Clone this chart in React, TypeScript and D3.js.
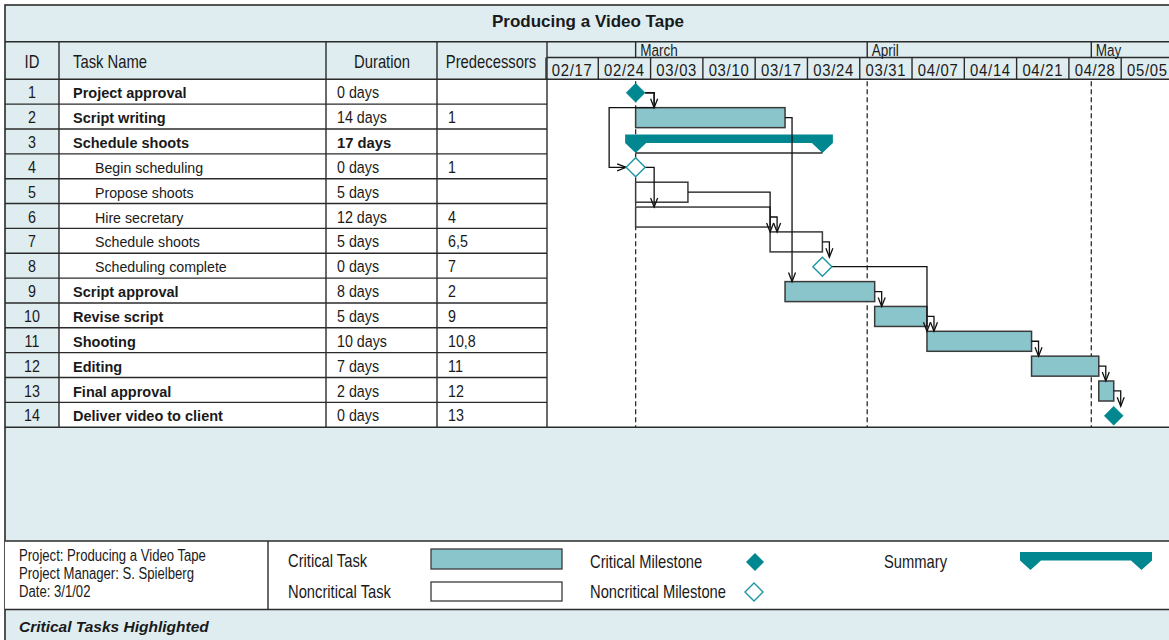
import React, { useEffect, useRef } from "react";
import * as d3 from "d3";

// ---- data ----
const taskIds = [1, 2, 3, 4, 5, 6, 7, 8, 9, 10, 11, 12, 13, 14];
const taskNames = [
  "Project approval", "Script writing", "Schedule shoots", "Begin scheduling",
  "Propose shoots", "Hire secretary", "Schedule shoots", "Scheduling complete",
  "Script approval", "Revise script", "Shooting", "Editing", "Final approval",
  "Deliver video to client",
];
const durations = [
  "0 days", "14 days", "17 days", "0 days", "5 days", "12 days", "5 days",
  "0 days", "8 days", "5 days", "10 days", "7 days", "2 days", "0 days",
];
const predecessors = ["", "1", "", "1", "", "4", "6,5", "7", "2", "9", "10,8", "11", "12", "13"];
const taskStarts = [
  "2002-03-01", "2002-03-01", "2002-03-01", "2002-03-01", "2002-03-01", "2002-03-01", "2002-03-19",
  "2002-03-26", "2002-03-21", "2002-04-02", "2002-04-09", "2002-04-23", "2002-05-02", "2002-05-04",
];
const taskEnds = [
  "2002-03-01", "2002-03-21", "2002-03-26", "2002-03-01", "2002-03-08", "2002-03-19", "2002-03-26",
  "2002-03-26", "2002-04-02", "2002-04-09", "2002-04-23", "2002-05-02", "2002-05-04", "2002-05-04",
];
const taskKinds = [
  "milestone", "task", "summary", "milestone", "task", "task", "task",
  "milestone", "task", "task", "task", "task", "task", "milestone",
];
const criticalTasks = [true, true, false, false, false, false, false, false, true, true, true, true, true, true];
const subTasks = [false, false, false, true, true, true, true, true, false, false, false, false, false, false];
const links = [[1, 2], [1, 4], [4, 6], [5, 7], [6, 7], [7, 8], [2, 9], [9, 10], [10, 11], [8, 11], [11, 12], [12, 13], [13, 14]];

const weekLabels = ["02/17", "02/24", "03/03", "03/10", "03/17", "03/24", "03/31", "04/07", "04/14", "04/21", "04/28", "05/05"];
const monthLabels = ["March", "April", "May"];
const monthStarts = ["2002-03-01", "2002-04-01", "2002-05-01"];
const timelineRange = ["2002-02-17", "2002-05-12"];

const infoLines = ["Project: Producing a Video Tape", "Project Manager: S. Spielberg", "Date: 3/1/02"];

// ---- style ----
const SANS = "'Liberation Sans', Arial, sans-serif";
const BG = "#dfedf1";
const LINE = "#2b2b2b";
const TEAL = "#00878f";
const CRIT = "#8bc5cc";
const TEXT = "#1a1a1a";

function App() {
  const ref = useRef<SVGSVGElement>(null);

  useEffect(() => {
    const width = 1169, height = 640;
    const svg = d3.select(ref.current).attr("width", width).attr("height", height);
    svg.selectAll("*").remove();

    // condensed text: no narrow face installed, so squeeze the sans horizontally
    const narrow = (g: any, xx: number, yy: number, t: string | number, size: number,
      anchor = "start", sx = 0.82, spacing = 0) =>
      g.append("text").attr("transform", `translate(${xx},${yy}) scale(${sx},1)`)
        .attr("text-anchor", anchor).attr("font-family", SANS).attr("font-size", size)
        .attr("letter-spacing", spacing).attr("fill", TEXT).text(t);

    const parse = d3.utcParse("%Y-%m-%d");
    const left = 5, titleTop = 5, headTop = 41.7, monthBottom = 57.5, headBottom = 79.3;
    const cols = [5, 59, 326, 437, 547];
    const rowH = 24.85;
    const tableBottom = headBottom + taskIds.length * rowH;
    const legendTop = 541, legendBottom = 609.5;

    const x = d3.scaleUtc()
      .domain(timelineRange.map((d) => parse(d) as Date))
      .range([546, 546 + 84 * 7.47]);
    const y = d3.scaleLinear().domain([0, taskIds.length]).range([headBottom, tableBottom]);

    // frame
    svg.append("rect").attr("width", width).attr("height", height).attr("fill", "#fff");
    svg.append("rect").attr("x", left).attr("y", titleTop).attr("width", width + 20).attr("height", height + 20)
      .attr("fill", BG).attr("stroke", LINE).attr("stroke-width", 1.6);

    svg.append("text").attr("x", 588).attr("y", 27).attr("text-anchor", "middle")
      .attr("font-family", SANS).attr("font-weight", "bold").attr("font-size", 17).attr("fill", TEXT)
      .text("Producing a Video Tape");

    // white cells
    svg.append("rect").attr("x", cols[1]).attr("y", headBottom).attr("width", cols[4] - cols[1]).attr("height", tableBottom - headBottom).attr("fill", "#fff");
    svg.append("rect").attr("x", cols[4]).attr("y", headBottom).attr("width", width - cols[4] + 10).attr("height", tableBottom - headBottom).attr("fill", "#fff");
    svg.append("rect").attr("x", left).attr("y", legendTop).attr("width", width).attr("height", legendBottom - legendTop).attr("fill", "#fff");

    const lines = svg.append("g").attr("stroke", LINE).attr("stroke-width", 1.4).attr("fill", "none");
    const hline = (x1: number, x2: number, yy: number) => lines.append("line").attr("x1", x1).attr("x2", x2).attr("y1", yy).attr("y2", yy);
    const vline = (xx: number, y1: number, y2: number) => lines.append("line").attr("x1", xx).attr("x2", xx).attr("y1", y1).attr("y2", y2);

    hline(left, width + 5, headTop);
    hline(left, width + 5, headBottom);
    hline(left, width + 5, tableBottom);
    d3.range(1, taskIds.length).forEach((i) => hline(left, cols[4], y(i)));
    cols.slice(1).forEach((c) => vline(c, headTop, tableBottom));
    hline(cols[4], width + 5, monthBottom);

    // timeline header
    const months = monthStarts.map((d) => parse(d) as Date);
    months.forEach((m, i) => {
      vline(x(m), headTop, monthBottom);
      narrow(svg, x(m) + 4.5, 55.5, monthLabels[i], 16.5);
    });
    const weeks = d3.utcSunday.range(x.domain()[0], x.domain()[1]);
    weeks.forEach((w, i) => {
      vline(x(w), monthBottom, headBottom);
      const mid = x(w) + (x(d3.utcDay.offset(w, 7)) - x(w)) / 2;
      narrow(svg, mid, 76, weekLabels[i], 16.5, "middle", 0.9, 0.8);
    });

    // table header
    narrow(svg, 32, 67.5, "ID", 18.5, "middle", 0.8);
    narrow(svg, 73, 67.5, "Task Name", 18.5, "start", 0.8);
    narrow(svg, 382, 67.5, "Duration", 18.5, "middle", 0.8);
    narrow(svg, 491, 67.5, "Predecessors", 18.5, "middle", 0.8);

    // table rows
    taskIds.forEach((id, i) => {
      const base = y(i) + 19;
      narrow(svg, 32, base, id, 17, "middle", 0.84);
      svg.append("text").attr("x", subTasks[i] ? 95 : 73).attr("y", base)
        .attr("font-family", SANS).attr("font-size", subTasks[i] ? 14.2 : 14.5)
        .attr("font-weight", subTasks[i] ? "normal" : "bold").attr("fill", TEXT).text(taskNames[i]);
      if (taskKinds[i] === "summary") {
        svg.append("text").attr("x", 337).attr("y", base).attr("font-family", SANS).attr("font-size", 14.8)
          .attr("font-weight", "bold").attr("fill", TEXT).text(durations[i]);
      } else {
        narrow(svg, 337, base, durations[i], 17, "start", 0.84);
      }
      narrow(svg, 448, base, predecessors[i], 17, "start", 0.84);
    });

    // gantt
    const chart = svg.append("g");
    months.forEach((m) => {
      chart.append("line").attr("x1", x(m)).attr("x2", x(m)).attr("y1", headBottom + 2).attr("y2", tableBottom)
        .attr("stroke", LINE).attr("stroke-width", 1.3).attr("stroke-dasharray", "5,3");
    });

    const R = 9.5;
    const sx = (i: number) => x(parse(taskStarts[i]) as Date);
    const ex = (i: number) => x(parse(taskEnds[i]) as Date);
    const isMs = (i: number) => taskKinds[i] === "milestone";
    const midY = (i: number) => y(i) + rowH / 2 + 1;
    const rightEdge = (i: number) => (isMs(i) ? sx(i) + R : ex(i));
    const leftEdge = (i: number) => (isMs(i) ? sx(i) - R : sx(i));
    const topY = (i: number) => (isMs(i) ? midY(i) - R : y(i) + 3.5);

    // bars
    taskIds.forEach((id, i) => {
      if (taskKinds[i] === "task") {
        chart.append("rect").attr("x", sx(i)).attr("y", y(i) + 3.5).attr("width", ex(i) - sx(i)).attr("height", 20)
          .attr("fill", criticalTasks[i] ? CRIT : "#fff").attr("stroke", "#3a3a3a").attr("stroke-width", 1.5);
      } else if (taskKinds[i] === "summary") {
        const a = sx(i), b = ex(i), t = y(i) + 5.6, bb = t + 8.4, ap = y(i) + 24;
        chart.append("path").attr("fill", TEAL)
          .attr("d", `M${a - 10.5},${t}H${b + 10.5}V${bb}L${b},${ap}L${b - 10.5},${bb}H${a + 10.5}L${a},${ap}L${a - 10.5},${bb}Z`);
        chart.append("line").attr("x1", a).attr("x2", b).attr("y1", ap).attr("y2", ap).attr("stroke", LINE).attr("stroke-width", 1.3);
      }
    });

    // links
    const linkG = chart.append("g").attr("fill", "none").attr("stroke", "#111").attr("stroke-width", 1.3);
    links.forEach(([p1, s1]) => {
      const p = p1 - 1, s = s1 - 1;
      const x0 = rightEdge(p), y0 = midY(p);
      const tx = Math.max(x0 + (isMs(p) ? 9 : 7), sx(s));
      if (isMs(s) && tx > rightEdge(s)) {
        const dropY = y(p + 1) + 3.5, backX = leftEdge(s) - 17, ty = midY(s), tip = leftEdge(s);
        linkG.append("path").attr("d", `M${x0},${y0}H${tx}V${dropY}H${backX}V${ty}H${tip}`);
        linkG.append("path").attr("d", `M${tip - 9},${ty - 3.5}L${tip},${ty}L${tip - 9},${ty + 3.5}`);
      } else {
        const ty = topY(s);
        linkG.append("path").attr("d", `M${x0},${y0}H${tx}V${ty}`);
        linkG.append("path").attr("d", `M${tx - 3.5},${ty - 9}L${tx},${ty}L${tx + 3.5},${ty - 9}`);
      }
    });

    // milestones
    taskIds.forEach((id, i) => {
      if (!isMs(i)) return;
      const cx = sx(i), cy = midY(i);
      chart.append("path").attr("d", `M${cx},${cy - R}L${cx + R},${cy}L${cx},${cy + R}L${cx - R},${cy}Z`)
        .attr("fill", criticalTasks[i] ? TEAL : "#fff").attr("stroke", criticalTasks[i] ? TEAL : "#1b96a1")
        .attr("stroke-width", criticalTasks[i] ? 0.5 : 1.4);
    });

    // legend
    hline(left, width + 5, legendTop);
    hline(left, width + 5, legendBottom);
    vline(268, legendTop, legendBottom);
    infoLines.forEach((t, i) => narrow(svg, 19, 561 + i * 18, t, 16));
    narrow(svg, 288, 567, "Critical Task", 18);
    narrow(svg, 288, 598, "Noncritical Task", 18);
    narrow(svg, 590, 568, "Critical Milestone", 18);
    narrow(svg, 590, 598, "Noncritical Milestone", 18);
    narrow(svg, 884, 568, "Summary", 18);
    svg.append("rect").attr("x", 431).attr("y", 549).attr("width", 131).attr("height", 20)
      .attr("fill", CRIT).attr("stroke", "#3a3a3a").attr("stroke-width", 1.3);
    svg.append("rect").attr("x", 431).attr("y", 582).attr("width", 131).attr("height", 19)
      .attr("fill", "#fff").attr("stroke", "#3a3a3a").attr("stroke-width", 1.3);
    const diamond = (cx: number, cy: number, r: number) => `M${cx},${cy - r}L${cx + r},${cy}L${cx},${cy + r}L${cx - r},${cy}Z`;
    svg.append("path").attr("d", diamond(755, 562, 9)).attr("fill", TEAL);
    svg.append("path").attr("d", diamond(754, 592, 9)).attr("fill", "#fff").attr("stroke", "#1b96a1").attr("stroke-width", 1.4);
    {
      const a = 1030.5, b = 1141.5, t = 552, bb = 560.5, ap = 570;
      svg.append("path").attr("fill", TEAL)
        .attr("d", `M${a - 10.5},${t}H${b + 10.5}V${bb}L${b},${ap}L${b - 10.5},${bb}H${a + 10.5}L${a},${ap}L${a - 10.5},${bb}Z`);
    }

    svg.append("text").attr("x", 19).attr("y", 632).attr("font-family", SANS).attr("font-weight", "bold")
      .attr("font-style", "italic").attr("font-size", 15.5).attr("fill", TEXT).text("Critical Tasks Highlighted");
  }, []);

  return (
    <div style={{ position: "absolute", left: 0, top: 0 }}>
      <svg ref={ref} style={{ display: "block" }}></svg>
    </div>
  );
}

export default App;
